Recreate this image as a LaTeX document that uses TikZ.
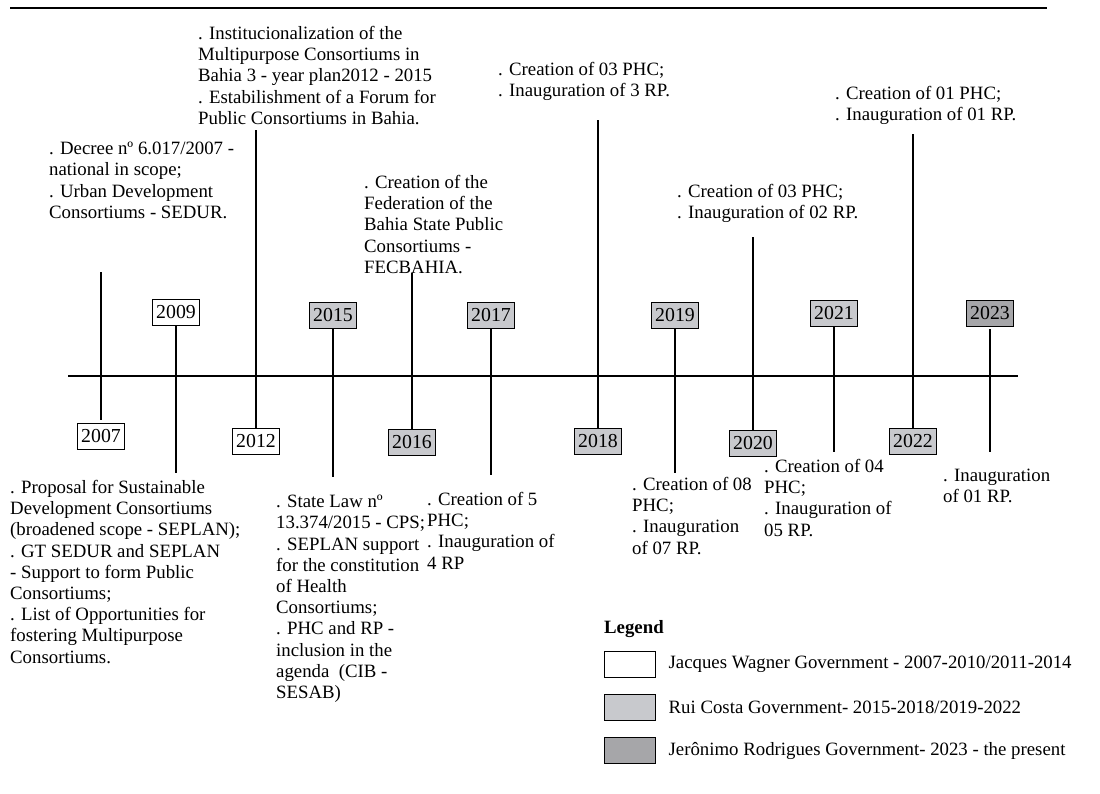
\documentclass[tikz,border=0pt]{standalone}
\usepackage{fontspec}
\setmainfont{Liberation Serif}
\usetikzlibrary{positioning}
\definecolor{ruigray}{HTML}{C8C9CD}
\definecolor{jergray}{HTML}{A6A6A9}

\begin{document}
\begin{tikzpicture}[x=1pt, y=-1pt, font=\fontsize{18.8}{21.2}\selectfont,
        year/.style={draw, line width=0.9pt, inner sep=0pt, minimum width=47pt, minimum height=26pt, font=\fontsize{19.8}{22}\selectfont},
        wagner/.style={year, fill=white},
        rui/.style={year, fill=ruigray},
        jeronimo/.style={year, fill=jergray},
        note/.style={anchor=north west, inner sep=0pt, align=left},
        tick/.style={line width=1.2pt},
        key/.style={draw, line width=0.9pt, minimum width=51pt, minimum height=26pt, inner sep=0pt}]
        \useasboundingbox (0,0) rectangle (1100,793);

        % rule and axis
        \coordinate (RL) at (10,8);
        \coordinate (RR) at (1047,8);
        \draw[line width=1.3pt] (RL) -- (RR);
        \coordinate (AL) at (68,376);
        \coordinate (AR) at (1018,376);
        \draw[line width=2.6pt] (AL) -- (AR);

        % years
        \node[wagner] (Y07) at (101,436) {2007};
        \node[wagner] (Y09) at (176,312) {2009};
        \node[wagner] (Y12) at (256,441) {2012};
        \node[rui] (Y15) at (333,315) {2015};
        \node[rui] (Y16) at (412,442) {2016};
        \node[rui] (Y17) at (491,315) {2017};
        \node[rui] (Y18) at (598,441) {2018};
        \node[rui] (Y19) at (675,315) {2019};
        \node[rui] (Y20) at (753,443) {2020};
        \node[rui] (Y21) at (834,313) {2021};
        \node[rui] (Y22) at (913,441) {2022};
        \node[jeronimo] (Y23) at (990,313) {2023};

        % line ends
        \coordinate (E07) at (101,272);
        \coordinate (E09) at (176,473);
        \coordinate (E12) at (256,130);
        \coordinate (E15) at (333,477);
        \coordinate (E16) at (412,273);
        \coordinate (E17) at (491,475);
        \coordinate (E18) at (598,120);
        \coordinate (E19) at (675,473);
        \coordinate (E20) at (753,237);
        \coordinate (E21) at (834,452);
        \coordinate (E22) at (913,134);
        \coordinate (E23) at (990,452);

        % edges
        \draw[tick, shorten >=3pt] (E07) -- (Y07);
        \draw[tick] (Y09) -- (E09);
        \draw[tick] (E12) -- (Y12);
        \draw[tick] (Y15) -- (E15);
        \draw[tick] (E16) -- (Y16);
        \draw[tick] (Y17) -- (E17);
        \draw[tick] (E18) -- (Y18);
        \draw[tick] (Y19) -- (E19);
        \draw[tick] (E20) -- (Y20);
        \draw[tick] (Y21) -- (E21);
        \draw[tick] (E22) -- (Y22);
        \draw[tick, shorten <=3pt] (Y23) -- (E23);

        % texts above
        \node[note] (T07) at (49,142) {. Decree nº 6.017/2007 -\\national in scope;\\. Urban Development\\Consortiums - SEDUR.};
        \node[note] (T12) at (198,26) {. Institucionalization of the\\Multipurpose Consortiums in\\Bahia 3 - year plan2012 - 2015\\. Estabilishment of a Forum for\\Public Consortiums in Bahia.};
        \node[note] (T16) at (364,175) {. Creation of the\\Federation of the\\Bahia State Public\\Consortiums -\\FECBAHIA.};
        \node[note] (T18) at (498,62) {. Creation of 03 PHC;\\. Inauguration of 3 RP.};
        \node[note] (T20) at (677,184) {. Creation of 03 PHC;\\. Inauguration of 02 RP.};
        \node[note] (T22) at (835,86) {. Creation of 01 PHC;\\. Inauguration of 01 RP.};

        % texts below
        \node[note] (T09) at (10,480) {. Proposal for Sustainable\\Development Consortiums\\(broadened scope - SEPLAN);\\. GT SEDUR and SEPLAN\\- Support to form Public\\Consortiums;\\. List of Opportunities for\\fostering Multipurpose\\Consortiums.};
        \node[note] (T15) at (276,495) {. State Law nº\\13.374/2015 - CPS;\\. SEPLAN support\\for the constitution\\of Health\\Consortiums;\\. PHC and RP -\\inclusion in the\\agenda~ (CIB -\\SESAB)};
        \node[note] (T17) at (427,492) {. Creation of 5\\PHC;\\. Inauguration of\\4 RP};
        \node[note] (T19) at (632,477) {. Creation of 08\\PHC;\\. Inauguration\\of 07 RP.};
        \node[note] (T21) at (764,459) {. Creation of 04\\PHC;\\. Inauguration of\\05 RP.};
        \node[note] (T23) at (943,469) {. Inauguration\\of 01 RP.};

        % legend
        \node[anchor=base west, inner sep=0pt, font=\fontsize{18.8}{21.2}\selectfont\bfseries] (LG) at (604,633) {Legend};
        \node[key, fill=white] (K1) at (629.5,664) {};
        \node[key, fill=ruigray] (K2) at (629.5,707.5) {};
        \node[key, fill=jergray] (K3) at (629.5,750.5) {};
        \node[right=13pt of K1, inner sep=0pt] (L1) {Jacques Wagner Government - 2007-2010/2011-2014};
        \node[right=13pt of K2, inner sep=0pt] (L2) {Rui Costa Government- 2015-2018/2019-2022};
        \node[right=13pt of K3, inner sep=0pt] (L3) {Jerônimo Rodrigues Government- 2023 - the present};
\end{tikzpicture}
\end{document}
